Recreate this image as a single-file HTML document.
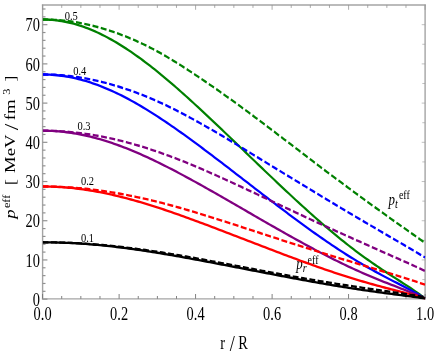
<!DOCTYPE html>
<html><head><meta charset="utf-8"><title>plot</title>
<style>
html,body{margin:0;padding:0;background:#fff;}
svg{display:block;font-family:"Liberation Serif",serif;fill:#000;}
</style></head><body>
<svg width="436" height="354" viewBox="0 0 436 354">
<rect width="436" height="354" fill="#fff"/>
<filter id="gs" x="-5%" y="-5%" width="110%" height="110%" color-interpolation-filters="sRGB"><feColorMatrix type="saturate" values="0"/></filter>
<clipPath id="c"><rect x="42.9" y="4.03" width="382.9" height="237.54"/></clipPath>
<g transform="scale(1,1.24)">
<g filter="url(#gs)">
<text x="388.6" y="165.32" font-size="12.9"><tspan font-style="italic">p</tspan><tspan font-style="italic" font-size="10.2" dy="2.4">t</tspan><tspan font-size="10.0" dy="-6.9" dx="1.0">eff</tspan></text>
<text x="296.2" y="217.10" font-size="12.9"><tspan font-style="italic">p</tspan><tspan font-style="italic" font-size="10.2" dy="2.4">r</tspan><tspan font-size="10.0" dy="-6.9" dx="1.0">eff</tspan></text>
</g>
<g>
<line x1="42.6" y1="3.55" x2="42.6" y2="241.45" stroke="#a4a4a4" stroke-width="1.4"/>
<line x1="425.1" y1="3.55" x2="425.1" y2="241.45" stroke="#a4a4a4" stroke-width="1.4"/>
<line x1="41.9" y1="4.03" x2="425.8" y2="4.03" stroke="#a4a4a4" stroke-width="1.05"/>
<line x1="41.9" y1="240.97" x2="425.8" y2="240.97" stroke="#a4a4a4" stroke-width="1.05"/>
</g>
<g stroke="#909090" stroke-width="0.9">
<line x1="42.60" y1="240.97" x2="42.60" y2="237.10" stroke="#747474"/>
<line x1="42.60" y1="4.03" x2="42.60" y2="7.90" stroke="#949494" stroke-width="0.7"/>
<line x1="61.73" y1="240.97" x2="61.73" y2="238.63" stroke="#747474"/>
<line x1="61.73" y1="4.03" x2="61.73" y2="6.37" stroke="#949494" stroke-width="0.7"/>
<line x1="80.85" y1="240.97" x2="80.85" y2="238.63" stroke="#747474"/>
<line x1="80.85" y1="4.03" x2="80.85" y2="6.37" stroke="#949494" stroke-width="0.7"/>
<line x1="99.97" y1="240.97" x2="99.97" y2="238.63" stroke="#747474"/>
<line x1="99.97" y1="4.03" x2="99.97" y2="6.37" stroke="#949494" stroke-width="0.7"/>
<line x1="119.10" y1="240.97" x2="119.10" y2="237.10" stroke="#747474"/>
<line x1="119.10" y1="4.03" x2="119.10" y2="7.90" stroke="#949494" stroke-width="0.7"/>
<line x1="138.22" y1="240.97" x2="138.22" y2="238.63" stroke="#747474"/>
<line x1="138.22" y1="4.03" x2="138.22" y2="6.37" stroke="#949494" stroke-width="0.7"/>
<line x1="157.35" y1="240.97" x2="157.35" y2="238.63" stroke="#747474"/>
<line x1="157.35" y1="4.03" x2="157.35" y2="6.37" stroke="#949494" stroke-width="0.7"/>
<line x1="176.47" y1="240.97" x2="176.47" y2="238.63" stroke="#747474"/>
<line x1="176.47" y1="4.03" x2="176.47" y2="6.37" stroke="#949494" stroke-width="0.7"/>
<line x1="195.60" y1="240.97" x2="195.60" y2="237.10" stroke="#747474"/>
<line x1="195.60" y1="4.03" x2="195.60" y2="7.90" stroke="#949494" stroke-width="0.7"/>
<line x1="214.72" y1="240.97" x2="214.72" y2="238.63" stroke="#747474"/>
<line x1="214.72" y1="4.03" x2="214.72" y2="6.37" stroke="#949494" stroke-width="0.7"/>
<line x1="233.85" y1="240.97" x2="233.85" y2="238.63" stroke="#747474"/>
<line x1="233.85" y1="4.03" x2="233.85" y2="6.37" stroke="#949494" stroke-width="0.7"/>
<line x1="252.98" y1="240.97" x2="252.98" y2="238.63" stroke="#747474"/>
<line x1="252.98" y1="4.03" x2="252.98" y2="6.37" stroke="#949494" stroke-width="0.7"/>
<line x1="272.10" y1="240.97" x2="272.10" y2="237.10" stroke="#747474"/>
<line x1="272.10" y1="4.03" x2="272.10" y2="7.90" stroke="#949494" stroke-width="0.7"/>
<line x1="291.23" y1="240.97" x2="291.23" y2="238.63" stroke="#747474"/>
<line x1="291.23" y1="4.03" x2="291.23" y2="6.37" stroke="#949494" stroke-width="0.7"/>
<line x1="310.35" y1="240.97" x2="310.35" y2="238.63" stroke="#747474"/>
<line x1="310.35" y1="4.03" x2="310.35" y2="6.37" stroke="#949494" stroke-width="0.7"/>
<line x1="329.48" y1="240.97" x2="329.48" y2="238.63" stroke="#747474"/>
<line x1="329.48" y1="4.03" x2="329.48" y2="6.37" stroke="#949494" stroke-width="0.7"/>
<line x1="348.60" y1="240.97" x2="348.60" y2="237.10" stroke="#747474"/>
<line x1="348.60" y1="4.03" x2="348.60" y2="7.90" stroke="#949494" stroke-width="0.7"/>
<line x1="367.73" y1="240.97" x2="367.73" y2="238.63" stroke="#747474"/>
<line x1="367.73" y1="4.03" x2="367.73" y2="6.37" stroke="#949494" stroke-width="0.7"/>
<line x1="386.85" y1="240.97" x2="386.85" y2="238.63" stroke="#747474"/>
<line x1="386.85" y1="4.03" x2="386.85" y2="6.37" stroke="#949494" stroke-width="0.7"/>
<line x1="405.98" y1="240.97" x2="405.98" y2="238.63" stroke="#747474"/>
<line x1="405.98" y1="4.03" x2="405.98" y2="6.37" stroke="#949494" stroke-width="0.7"/>
<line x1="425.10" y1="240.97" x2="425.10" y2="237.10" stroke="#747474"/>
<line x1="425.10" y1="4.03" x2="425.10" y2="7.90" stroke="#949494" stroke-width="0.7"/>
<line x1="42.6" y1="241.25" x2="47.4" y2="241.25" stroke-width="0.95"/>
<line x1="42.6" y1="234.93" x2="45.5" y2="234.93" stroke-width="0.95"/>
<line x1="42.6" y1="228.60" x2="45.5" y2="228.60" stroke-width="0.95"/>
<line x1="42.6" y1="222.28" x2="45.5" y2="222.28" stroke-width="0.95"/>
<line x1="42.6" y1="215.95" x2="45.5" y2="215.95" stroke-width="0.95"/>
<line x1="42.6" y1="209.63" x2="47.4" y2="209.63" stroke-width="0.95"/>
<line x1="42.6" y1="203.30" x2="45.5" y2="203.30" stroke-width="0.95"/>
<line x1="42.6" y1="196.98" x2="45.5" y2="196.98" stroke-width="0.95"/>
<line x1="42.6" y1="190.66" x2="45.5" y2="190.66" stroke-width="0.95"/>
<line x1="42.6" y1="184.33" x2="45.5" y2="184.33" stroke-width="0.95"/>
<line x1="42.6" y1="178.01" x2="47.4" y2="178.01" stroke-width="0.95"/>
<line x1="42.6" y1="171.68" x2="45.5" y2="171.68" stroke-width="0.95"/>
<line x1="42.6" y1="165.36" x2="45.5" y2="165.36" stroke-width="0.95"/>
<line x1="42.6" y1="159.04" x2="45.5" y2="159.04" stroke-width="0.95"/>
<line x1="42.6" y1="152.71" x2="45.5" y2="152.71" stroke-width="0.95"/>
<line x1="42.6" y1="146.39" x2="47.4" y2="146.39" stroke-width="0.95"/>
<line x1="42.6" y1="140.06" x2="45.5" y2="140.06" stroke-width="0.95"/>
<line x1="42.6" y1="133.74" x2="45.5" y2="133.74" stroke-width="0.95"/>
<line x1="42.6" y1="127.41" x2="45.5" y2="127.41" stroke-width="0.95"/>
<line x1="42.6" y1="121.09" x2="45.5" y2="121.09" stroke-width="0.95"/>
<line x1="42.6" y1="114.77" x2="47.4" y2="114.77" stroke-width="0.95"/>
<line x1="42.6" y1="108.44" x2="45.5" y2="108.44" stroke-width="0.95"/>
<line x1="42.6" y1="102.12" x2="45.5" y2="102.12" stroke-width="0.95"/>
<line x1="42.6" y1="95.79" x2="45.5" y2="95.79" stroke-width="0.95"/>
<line x1="42.6" y1="89.47" x2="45.5" y2="89.47" stroke-width="0.95"/>
<line x1="42.6" y1="83.15" x2="47.4" y2="83.15" stroke-width="0.95"/>
<line x1="42.6" y1="76.82" x2="45.5" y2="76.82" stroke-width="0.95"/>
<line x1="42.6" y1="70.50" x2="45.5" y2="70.50" stroke-width="0.95"/>
<line x1="42.6" y1="64.17" x2="45.5" y2="64.17" stroke-width="0.95"/>
<line x1="42.6" y1="57.85" x2="45.5" y2="57.85" stroke-width="0.95"/>
<line x1="42.6" y1="51.52" x2="47.4" y2="51.52" stroke-width="0.95"/>
<line x1="42.6" y1="45.20" x2="45.5" y2="45.20" stroke-width="0.95"/>
<line x1="42.6" y1="38.88" x2="45.5" y2="38.88" stroke-width="0.95"/>
<line x1="42.6" y1="32.55" x2="45.5" y2="32.55" stroke-width="0.95"/>
<line x1="42.6" y1="26.23" x2="45.5" y2="26.23" stroke-width="0.95"/>
<line x1="42.6" y1="19.90" x2="47.4" y2="19.90" stroke-width="0.95"/>
<line x1="42.6" y1="13.58" x2="45.5" y2="13.58" stroke-width="0.95"/>
<line x1="42.6" y1="7.25" x2="45.5" y2="7.25" stroke-width="0.95"/>
<line x1="425.1" y1="241.25" x2="421.70000000000005" y2="241.25" stroke="#9a9a9a" stroke-width="0.55"/>
<line x1="425.1" y1="225.44" x2="422.3" y2="225.44" stroke="#9a9a9a" stroke-width="0.55"/>
<line x1="425.1" y1="209.63" x2="421.70000000000005" y2="209.63" stroke="#9a9a9a" stroke-width="0.55"/>
<line x1="425.1" y1="193.82" x2="422.3" y2="193.82" stroke="#9a9a9a" stroke-width="0.55"/>
<line x1="425.1" y1="178.01" x2="421.70000000000005" y2="178.01" stroke="#9a9a9a" stroke-width="0.55"/>
<line x1="425.1" y1="162.20" x2="422.3" y2="162.20" stroke="#9a9a9a" stroke-width="0.55"/>
<line x1="425.1" y1="146.39" x2="421.70000000000005" y2="146.39" stroke="#9a9a9a" stroke-width="0.55"/>
<line x1="425.1" y1="130.58" x2="422.3" y2="130.58" stroke="#9a9a9a" stroke-width="0.55"/>
<line x1="425.1" y1="114.77" x2="421.70000000000005" y2="114.77" stroke="#9a9a9a" stroke-width="0.55"/>
<line x1="425.1" y1="98.96" x2="422.3" y2="98.96" stroke="#9a9a9a" stroke-width="0.55"/>
<line x1="425.1" y1="83.15" x2="421.70000000000005" y2="83.15" stroke="#9a9a9a" stroke-width="0.55"/>
<line x1="425.1" y1="67.33" x2="422.3" y2="67.33" stroke="#9a9a9a" stroke-width="0.55"/>
<line x1="425.1" y1="51.52" x2="421.70000000000005" y2="51.52" stroke="#9a9a9a" stroke-width="0.55"/>
<line x1="425.1" y1="35.71" x2="422.3" y2="35.71" stroke="#9a9a9a" stroke-width="0.55"/>
<line x1="425.1" y1="19.90" x2="421.70000000000005" y2="19.90" stroke="#9a9a9a" stroke-width="0.55"/>
</g>
<g clip-path="url(#c)" fill="none" stroke-width="1.9" stroke-linejoin="round">
<path d="M42.50,15.70 L44.89,15.72 L47.28,15.78 L49.67,15.89 L52.06,16.03 L54.45,16.21 L56.84,16.44 L59.23,16.70 L61.62,17.01 L64.02,17.35 L66.41,17.74 L68.80,18.16 L71.19,18.62 L73.58,19.13 L75.97,19.67 L78.36,20.25 L80.75,20.87 L83.14,21.52 L85.53,22.22 L87.92,22.95 L90.31,23.71 L92.70,24.51 L95.09,25.35 L97.48,26.22 L99.88,27.13 L102.27,28.07 L104.66,29.05 L107.05,30.06 L109.44,31.09 L111.83,32.17 L114.22,33.27 L116.61,34.40 L119.00,35.56 L121.39,36.76 L123.78,37.98 L126.17,39.22 L128.56,40.50 L130.95,41.80 L133.34,43.13 L135.73,44.48 L138.12,45.86 L140.52,47.26 L142.91,48.69 L145.30,50.14 L147.69,51.61 L150.08,53.10 L152.47,54.61 L154.86,56.14 L157.25,57.69 L159.64,59.26 L162.03,60.84 L164.42,62.45 L166.81,64.06 L169.20,65.70 L171.59,67.35 L173.98,69.02 L176.38,70.69 L178.77,72.39 L181.16,74.09 L183.55,75.81 L185.94,77.54 L188.33,79.28 L190.72,81.03 L193.11,82.78 L195.50,84.55 L197.89,86.33 L200.28,88.12 L202.67,89.91 L205.06,91.71 L207.45,93.51 L209.84,95.33 L212.23,97.15 L214.62,98.97 L217.02,100.80 L219.41,102.63 L221.80,104.47 L224.19,106.31 L226.58,108.15 L228.97,110.00 L231.36,111.84 L233.75,113.69 L236.14,115.54 L238.53,117.40 L240.92,119.25 L243.31,121.10 L245.70,122.96 L248.09,124.81 L250.48,126.67 L252.88,128.52 L255.27,130.37 L257.66,132.22 L260.05,134.07 L262.44,135.92 L264.83,137.76 L267.22,139.60 L269.61,141.44 L272.00,143.27 L274.39,145.10 L276.78,146.93 L279.17,148.75 L281.56,150.57 L283.95,152.38 L286.34,154.19 L288.73,155.99 L291.12,157.78 L293.52,159.57 L295.91,161.35 L298.30,163.13 L300.69,164.89 L303.08,166.65 L305.47,168.40 L307.86,170.14 L310.25,171.87 L312.64,173.59 L315.03,175.30 L317.42,177.00 L319.81,178.68 L322.20,180.36 L324.59,182.02 L326.98,183.67 L329.38,185.31 L331.77,186.93 L334.16,188.54 L336.55,190.14 L338.94,191.72 L341.33,193.28 L343.72,194.83 L346.11,196.36 L348.50,197.88 L350.89,199.38 L353.28,200.86 L355.67,202.33 L358.06,203.77 L360.45,205.20 L362.84,206.62 L365.23,208.01 L367.63,209.39 L370.02,210.76 L372.41,212.10 L374.80,213.43 L377.19,214.75 L379.58,216.05 L381.97,217.33 L384.36,218.61 L386.75,219.87 L389.14,221.13 L391.53,222.38 L393.92,223.62 L396.31,224.86 L398.70,226.09 L401.09,227.33 L403.48,228.58 L405.88,229.83 L408.27,231.10 L410.66,232.38 L413.05,233.68 L415.44,235.01 L417.83,236.38 L420.22,237.78 L422.61,239.23 L425.00,240.73" stroke="#008000"/>
<path d="M42.50,15.70 L44.89,15.71 L47.28,15.75 L49.67,15.81 L52.06,15.89 L54.45,15.99 L56.84,16.12 L59.23,16.27 L61.62,16.44 L64.02,16.64 L66.41,16.86 L68.80,17.11 L71.19,17.37 L73.58,17.66 L75.97,17.97 L78.36,18.31 L80.75,18.66 L83.14,19.04 L85.53,19.44 L87.92,19.87 L90.31,20.31 L92.70,20.78 L95.09,21.27 L97.48,21.79 L99.88,22.32 L102.27,22.87 L104.66,23.45 L107.05,24.05 L109.44,24.67 L111.83,25.31 L114.22,25.97 L116.61,26.65 L119.00,27.35 L121.39,28.08 L123.78,28.82 L126.17,29.58 L128.56,30.36 L130.95,31.17 L133.34,31.99 L135.73,32.83 L138.12,33.69 L140.52,34.57 L142.91,35.48 L145.30,36.41 L147.69,37.36 L150.08,38.34 L152.47,39.34 L154.86,40.37 L157.25,41.41 L159.64,42.48 L162.03,43.56 L164.42,44.67 L166.81,45.79 L169.20,46.93 L171.59,48.09 L173.98,49.26 L176.38,50.45 L178.77,51.65 L181.16,52.87 L183.55,54.10 L185.94,55.35 L188.33,56.60 L190.72,57.87 L193.11,59.14 L195.50,60.43 L197.89,61.72 L200.28,63.03 L202.67,64.34 L205.06,65.65 L207.45,66.97 L209.84,68.30 L212.23,69.63 L214.62,70.96 L217.02,72.30 L219.41,73.65 L221.80,75.01 L224.19,76.37 L226.58,77.74 L228.97,79.12 L231.36,80.51 L233.75,81.90 L236.14,83.30 L238.53,84.70 L240.92,86.11 L243.31,87.53 L245.70,88.95 L248.09,90.37 L250.48,91.81 L252.88,93.24 L255.27,94.68 L257.66,96.13 L260.05,97.57 L262.44,99.03 L264.83,100.48 L267.22,101.94 L269.61,103.40 L272.00,104.86 L274.39,106.33 L276.78,107.80 L279.17,109.27 L281.56,110.74 L283.95,112.21 L286.34,113.68 L288.73,115.16 L291.12,116.63 L293.52,118.11 L295.91,119.58 L298.30,121.06 L300.69,122.54 L303.08,124.01 L305.47,125.49 L307.86,126.96 L310.25,128.43 L312.64,129.90 L315.03,131.37 L317.42,132.83 L319.81,134.29 L322.20,135.75 L324.59,137.20 L326.98,138.64 L329.38,140.09 L331.77,141.53 L334.16,142.96 L336.55,144.40 L338.94,145.83 L341.33,147.26 L343.72,148.68 L346.11,150.10 L348.50,151.53 L350.89,152.94 L353.28,154.36 L355.67,155.77 L358.06,157.19 L360.45,158.60 L362.84,160.01 L365.23,161.42 L367.63,162.83 L370.02,164.24 L372.41,165.64 L374.80,167.04 L377.19,168.44 L379.58,169.83 L381.97,171.22 L384.36,172.60 L386.75,173.98 L389.14,175.36 L391.53,176.74 L393.92,178.11 L396.31,179.48 L398.70,180.85 L401.09,182.21 L403.48,183.57 L405.88,184.93 L408.27,186.29 L410.66,187.65 L413.05,189.01 L415.44,190.37 L417.83,191.72 L420.22,193.08 L422.61,194.44 L425.00,195.80" stroke="#008000" stroke-dasharray="5.9 2.5"/>
<path d="M42.50,60.07 L44.89,60.09 L47.28,60.14 L49.67,60.22 L52.06,60.34 L54.45,60.48 L56.84,60.66 L59.23,60.87 L61.62,61.12 L64.02,61.40 L66.41,61.71 L68.80,62.05 L71.19,62.42 L73.58,62.82 L75.97,63.26 L78.36,63.72 L80.75,64.22 L83.14,64.75 L85.53,65.30 L87.92,65.89 L90.31,66.50 L92.70,67.15 L95.09,67.82 L97.48,68.52 L99.88,69.25 L102.27,70.00 L104.66,70.79 L107.05,71.60 L109.44,72.43 L111.83,73.29 L114.22,74.18 L116.61,75.08 L119.00,76.02 L121.39,76.98 L123.78,77.96 L126.17,78.96 L128.56,79.98 L130.95,81.03 L133.34,82.09 L135.73,83.18 L138.12,84.29 L140.52,85.41 L142.91,86.56 L145.30,87.72 L147.69,88.90 L150.08,90.09 L152.47,91.31 L154.86,92.54 L157.25,93.78 L159.64,95.04 L162.03,96.31 L164.42,97.60 L166.81,98.90 L169.20,100.21 L171.59,101.54 L173.98,102.87 L176.38,104.22 L178.77,105.58 L181.16,106.95 L183.55,108.33 L185.94,109.72 L188.33,111.11 L190.72,112.52 L193.11,113.93 L195.50,115.35 L197.89,116.77 L200.28,118.21 L202.67,119.65 L205.06,121.09 L207.45,122.54 L209.84,124.00 L212.23,125.46 L214.62,126.92 L217.02,128.39 L219.41,129.86 L221.80,131.33 L224.19,132.81 L226.58,134.29 L228.97,135.77 L231.36,137.26 L233.75,138.74 L236.14,140.23 L238.53,141.72 L240.92,143.20 L243.31,144.69 L245.70,146.18 L248.09,147.67 L250.48,149.16 L252.88,150.64 L255.27,152.13 L257.66,153.62 L260.05,155.10 L262.44,156.58 L264.83,158.06 L267.22,159.54 L269.61,161.02 L272.00,162.49 L274.39,163.96 L276.78,165.42 L279.17,166.89 L281.56,168.35 L283.95,169.80 L286.34,171.25 L288.73,172.70 L291.12,174.14 L293.52,175.57 L295.91,177.00 L298.30,178.43 L300.69,179.84 L303.08,181.26 L305.47,182.66 L307.86,184.06 L310.25,185.45 L312.64,186.83 L315.03,188.20 L317.42,189.56 L319.81,190.92 L322.20,192.26 L324.59,193.60 L326.98,194.92 L329.38,196.24 L331.77,197.54 L334.16,198.83 L336.55,200.11 L338.94,201.38 L341.33,202.64 L343.72,203.88 L346.11,205.11 L348.50,206.33 L350.89,207.53 L353.28,208.72 L355.67,209.90 L358.06,211.06 L360.45,212.21 L362.84,213.34 L365.23,214.46 L367.63,215.57 L370.02,216.66 L372.41,217.75 L374.80,218.81 L377.19,219.87 L379.58,220.91 L381.97,221.95 L384.36,222.97 L386.75,223.99 L389.14,224.99 L391.53,225.99 L393.92,226.99 L396.31,227.99 L398.70,228.98 L401.09,229.97 L403.48,230.97 L405.88,231.98 L408.27,233.00 L410.66,234.03 L413.05,235.07 L415.44,236.14 L417.83,237.24 L420.22,238.36 L422.61,239.52 L425.00,240.73" stroke="#0000ff"/>
<path d="M42.50,60.07 L44.89,60.08 L47.28,60.11 L49.67,60.16 L52.06,60.23 L54.45,60.32 L56.84,60.43 L59.23,60.56 L61.62,60.71 L64.02,60.87 L66.41,61.06 L68.80,61.27 L71.19,61.49 L73.58,61.74 L75.97,62.00 L78.36,62.29 L80.75,62.59 L83.14,62.91 L85.53,63.25 L87.92,63.61 L90.31,63.99 L92.70,64.39 L95.09,64.81 L97.48,65.24 L99.88,65.69 L102.27,66.16 L104.66,66.65 L107.05,67.16 L109.44,67.68 L111.83,68.23 L114.22,68.78 L116.61,69.36 L119.00,69.95 L121.39,70.56 L123.78,71.19 L126.17,71.83 L128.56,72.49 L130.95,73.17 L133.34,73.86 L135.73,74.57 L138.12,75.29 L140.52,76.03 L142.91,76.78 L145.30,77.55 L147.69,78.33 L150.08,79.13 L152.47,79.95 L154.86,80.78 L157.25,81.63 L159.64,82.50 L162.03,83.39 L164.42,84.29 L166.81,85.21 L169.20,86.14 L171.59,87.09 L173.98,88.05 L176.38,89.03 L178.77,90.01 L181.16,91.02 L183.55,92.03 L185.94,93.05 L188.33,94.09 L190.72,95.13 L193.11,96.18 L195.50,97.25 L197.89,98.32 L200.28,99.40 L202.67,100.48 L205.06,101.57 L207.45,102.67 L209.84,103.77 L212.23,104.88 L214.62,106.00 L217.02,107.12 L219.41,108.25 L221.80,109.39 L224.19,110.53 L226.58,111.68 L228.97,112.84 L231.36,114.00 L233.75,115.17 L236.14,116.34 L238.53,117.51 L240.92,118.68 L243.31,119.86 L245.70,121.04 L248.09,122.22 L250.48,123.40 L252.88,124.58 L255.27,125.76 L257.66,126.94 L260.05,128.12 L262.44,129.30 L264.83,130.47 L267.22,131.65 L269.61,132.83 L272.00,134.00 L274.39,135.18 L276.78,136.35 L279.17,137.53 L281.56,138.70 L283.95,139.88 L286.34,141.05 L288.73,142.23 L291.12,143.40 L293.52,144.57 L295.91,145.75 L298.30,146.92 L300.69,148.09 L303.08,149.27 L305.47,150.44 L307.86,151.61 L310.25,152.79 L312.64,153.96 L315.03,155.13 L317.42,156.30 L319.81,157.47 L322.20,158.64 L324.59,159.80 L326.98,160.97 L329.38,162.13 L331.77,163.29 L334.16,164.45 L336.55,165.60 L338.94,166.75 L341.33,167.90 L343.72,169.05 L346.11,170.20 L348.50,171.34 L350.89,172.48 L353.28,173.63 L355.67,174.76 L358.06,175.90 L360.45,177.04 L362.84,178.17 L365.23,179.30 L367.63,180.43 L370.02,181.56 L372.41,182.69 L374.80,183.82 L377.19,184.95 L379.58,186.07 L381.97,187.20 L384.36,188.33 L386.75,189.46 L389.14,190.58 L391.53,191.70 L393.92,192.82 L396.31,193.94 L398.70,195.07 L401.09,196.19 L403.48,197.32 L405.88,198.44 L408.27,199.58 L410.66,200.71 L413.05,201.85 L415.44,203.00 L417.83,204.15 L420.22,205.31 L422.61,206.48 L425.00,207.66" stroke="#0000ff" stroke-dasharray="5.9 2.5"/>
<path d="M42.50,105.39 L44.89,105.41 L47.28,105.44 L49.67,105.50 L52.06,105.59 L54.45,105.70 L56.84,105.84 L59.23,106.00 L61.62,106.18 L64.02,106.39 L66.41,106.62 L68.80,106.87 L71.19,107.15 L73.58,107.45 L75.97,107.78 L78.36,108.13 L80.75,108.50 L83.14,108.90 L85.53,109.31 L87.92,109.75 L90.31,110.21 L92.70,110.69 L95.09,111.20 L97.48,111.72 L99.88,112.27 L102.27,112.83 L104.66,113.42 L107.05,114.03 L109.44,114.65 L111.83,115.30 L114.22,115.96 L116.61,116.64 L119.00,117.34 L121.39,118.06 L123.78,118.79 L126.17,119.54 L128.56,120.31 L130.95,121.09 L133.34,121.89 L135.73,122.70 L138.12,123.53 L140.52,124.38 L142.91,125.23 L145.30,126.10 L147.69,126.99 L150.08,127.88 L152.47,128.79 L154.86,129.71 L157.25,130.65 L159.64,131.59 L162.03,132.54 L164.42,133.51 L166.81,134.48 L169.20,135.46 L171.59,136.46 L173.98,137.46 L176.38,138.47 L178.77,139.49 L181.16,140.51 L183.55,141.54 L185.94,142.58 L188.33,143.63 L190.72,144.68 L193.11,145.74 L195.50,146.80 L197.89,147.87 L200.28,148.94 L202.67,150.02 L205.06,151.11 L207.45,152.19 L209.84,153.28 L212.23,154.38 L214.62,155.47 L217.02,156.57 L219.41,157.67 L221.80,158.78 L224.19,159.88 L226.58,160.99 L228.97,162.10 L231.36,163.21 L233.75,164.33 L236.14,165.44 L238.53,166.55 L240.92,167.67 L243.31,168.78 L245.70,169.90 L248.09,171.02 L250.48,172.13 L252.88,173.24 L255.27,174.36 L257.66,175.47 L260.05,176.58 L262.44,177.69 L264.83,178.80 L267.22,179.91 L269.61,181.01 L272.00,182.12 L274.39,183.22 L276.78,184.32 L279.17,185.41 L281.56,186.50 L283.95,187.59 L286.34,188.68 L288.73,189.76 L291.12,190.84 L293.52,191.92 L295.91,192.99 L298.30,194.06 L300.69,195.12 L303.08,196.18 L305.47,197.23 L307.86,198.27 L310.25,199.31 L312.64,200.35 L315.03,201.38 L317.42,202.40 L319.81,203.41 L322.20,204.42 L324.59,205.42 L326.98,206.41 L329.38,207.40 L331.77,208.37 L334.16,209.34 L336.55,210.30 L338.94,211.25 L341.33,212.19 L343.72,213.12 L346.11,214.05 L348.50,214.96 L350.89,215.86 L353.28,216.75 L355.67,217.63 L358.06,218.50 L360.45,219.36 L362.84,220.21 L365.23,221.05 L367.63,221.88 L370.02,222.70 L372.41,223.51 L374.80,224.31 L377.19,225.10 L379.58,225.88 L381.97,226.66 L384.36,227.43 L386.75,228.19 L389.14,228.94 L391.53,229.69 L393.92,230.44 L396.31,231.18 L398.70,231.93 L401.09,232.67 L403.48,233.42 L405.88,234.17 L408.27,234.93 L410.66,235.71 L413.05,236.49 L415.44,237.29 L417.83,238.11 L420.22,238.95 L422.61,239.82 L425.00,240.73" stroke="#800080"/>
<path d="M42.50,105.39 L44.89,105.40 L47.28,105.43 L49.67,105.46 L52.06,105.52 L54.45,105.59 L56.84,105.68 L59.23,105.78 L61.62,105.89 L64.02,106.03 L66.41,106.17 L68.80,106.34 L71.19,106.51 L73.58,106.71 L75.97,106.92 L78.36,107.14 L80.75,107.38 L83.14,107.63 L85.53,107.90 L87.92,108.19 L90.31,108.48 L92.70,108.80 L95.09,109.12 L97.48,109.47 L99.88,109.82 L102.27,110.19 L104.66,110.58 L107.05,110.97 L109.44,111.39 L111.83,111.81 L114.22,112.25 L116.61,112.70 L119.00,113.17 L121.39,113.65 L123.78,114.14 L126.17,114.64 L128.56,115.16 L130.95,115.69 L133.34,116.23 L135.73,116.79 L138.12,117.35 L140.52,117.93 L142.91,118.52 L145.30,119.12 L147.69,119.73 L150.08,120.35 L152.47,120.99 L154.86,121.63 L157.25,122.28 L159.64,122.95 L162.03,123.63 L164.42,124.31 L166.81,125.01 L169.20,125.72 L171.59,126.44 L173.98,127.18 L176.38,127.92 L178.77,128.67 L181.16,129.43 L183.55,130.19 L185.94,130.97 L188.33,131.76 L190.72,132.55 L193.11,133.35 L195.50,134.16 L197.89,134.98 L200.28,135.80 L202.67,136.63 L205.06,137.47 L207.45,138.31 L209.84,139.16 L212.23,140.01 L214.62,140.87 L217.02,141.73 L219.41,142.59 L221.80,143.46 L224.19,144.34 L226.58,145.22 L228.97,146.10 L231.36,146.98 L233.75,147.87 L236.14,148.76 L238.53,149.65 L240.92,150.54 L243.31,151.44 L245.70,152.34 L248.09,153.25 L250.48,154.15 L252.88,155.06 L255.27,155.96 L257.66,156.87 L260.05,157.78 L262.44,158.69 L264.83,159.61 L267.22,160.52 L269.61,161.43 L272.00,162.34 L274.39,163.26 L276.78,164.17 L279.17,165.08 L281.56,165.99 L283.95,166.90 L286.34,167.81 L288.73,168.72 L291.12,169.62 L293.52,170.53 L295.91,171.43 L298.30,172.33 L300.69,173.23 L303.08,174.13 L305.47,175.03 L307.86,175.92 L310.25,176.81 L312.64,177.70 L315.03,178.59 L317.42,179.48 L319.81,180.36 L322.20,181.24 L324.59,182.13 L326.98,183.01 L329.38,183.88 L331.77,184.76 L334.16,185.63 L336.55,186.51 L338.94,187.38 L341.33,188.25 L343.72,189.12 L346.11,189.98 L348.50,190.85 L350.89,191.71 L353.28,192.57 L355.67,193.43 L358.06,194.29 L360.45,195.14 L362.84,196.00 L365.23,196.86 L367.63,197.71 L370.02,198.57 L372.41,199.42 L374.80,200.28 L377.19,201.13 L379.58,201.98 L381.97,202.84 L384.36,203.70 L386.75,204.56 L389.14,205.41 L391.53,206.27 L393.92,207.13 L396.31,207.98 L398.70,208.84 L401.09,209.69 L403.48,210.55 L405.88,211.41 L408.27,212.28 L410.66,213.15 L413.05,214.03 L415.44,214.91 L417.83,215.81 L420.22,216.71 L422.61,217.62 L425.00,218.54" stroke="#800080" stroke-dasharray="5.9 2.5"/>
<path d="M42.50,150.40 L44.89,150.41 L47.28,150.43 L49.67,150.47 L52.06,150.53 L54.45,150.60 L56.84,150.69 L59.23,150.80 L61.62,150.92 L64.02,151.06 L66.41,151.22 L68.80,151.39 L71.19,151.57 L73.58,151.77 L75.97,151.99 L78.36,152.22 L80.75,152.47 L83.14,152.74 L85.53,153.01 L87.92,153.31 L90.31,153.61 L92.70,153.94 L95.09,154.27 L97.48,154.62 L99.88,154.99 L102.27,155.37 L104.66,155.76 L107.05,156.16 L109.44,156.58 L111.83,157.01 L114.22,157.45 L116.61,157.91 L119.00,158.37 L121.39,158.85 L123.78,159.34 L126.17,159.84 L128.56,160.35 L130.95,160.88 L133.34,161.41 L135.73,161.95 L138.12,162.51 L140.52,163.07 L142.91,163.64 L145.30,164.22 L147.69,164.81 L150.08,165.41 L152.47,166.02 L154.86,166.63 L157.25,167.25 L159.64,167.88 L162.03,168.52 L164.42,169.16 L166.81,169.81 L169.20,170.47 L171.59,171.13 L173.98,171.80 L176.38,172.47 L178.77,173.15 L181.16,173.84 L183.55,174.53 L185.94,175.22 L188.33,175.92 L190.72,176.62 L193.11,177.33 L195.50,178.04 L197.89,178.75 L200.28,179.47 L202.67,180.19 L205.06,180.91 L207.45,181.63 L209.84,182.36 L212.23,183.09 L214.62,183.82 L217.02,184.56 L219.41,185.29 L221.80,186.03 L224.19,186.77 L226.58,187.51 L228.97,188.25 L231.36,188.99 L233.75,189.73 L236.14,190.48 L238.53,191.22 L240.92,191.96 L243.31,192.71 L245.70,193.45 L248.09,194.20 L250.48,194.94 L252.88,195.69 L255.27,196.43 L257.66,197.17 L260.05,197.91 L262.44,198.65 L264.83,199.39 L267.22,200.13 L269.61,200.87 L272.00,201.61 L274.39,202.34 L276.78,203.08 L279.17,203.81 L281.56,204.54 L283.95,205.26 L286.34,205.99 L288.73,206.71 L291.12,207.43 L293.52,208.15 L295.91,208.86 L298.30,209.58 L300.69,210.29 L303.08,210.99 L305.47,211.69 L307.86,212.39 L310.25,213.09 L312.64,213.78 L315.03,214.46 L317.42,215.14 L319.81,215.82 L322.20,216.49 L324.59,217.16 L326.98,217.82 L329.38,218.48 L331.77,219.13 L334.16,219.78 L336.55,220.42 L338.94,221.05 L341.33,221.68 L343.72,222.30 L346.11,222.92 L348.50,223.53 L350.89,224.13 L353.28,224.72 L355.67,225.31 L358.06,225.89 L360.45,226.47 L362.84,227.03 L365.23,227.59 L367.63,228.15 L370.02,228.70 L372.41,229.24 L374.80,229.77 L377.19,230.30 L379.58,230.82 L381.97,231.34 L384.36,231.85 L386.75,232.36 L389.14,232.86 L391.53,233.36 L393.92,233.86 L396.31,234.36 L398.70,234.85 L401.09,235.35 L403.48,235.85 L405.88,236.35 L408.27,236.86 L410.66,237.38 L413.05,237.90 L415.44,238.43 L417.83,238.98 L420.22,239.54 L422.61,240.12 L425.00,240.73" stroke="#ff0000"/>
<path d="M42.50,150.40 L44.89,150.40 L47.28,150.42 L49.67,150.45 L52.06,150.49 L54.45,150.54 L56.84,150.60 L59.23,150.68 L61.62,150.76 L64.02,150.86 L66.41,150.97 L68.80,151.09 L71.19,151.22 L73.58,151.36 L75.97,151.51 L78.36,151.68 L80.75,151.85 L83.14,152.04 L85.53,152.23 L87.92,152.44 L90.31,152.66 L92.70,152.89 L95.09,153.13 L97.48,153.38 L99.88,153.64 L102.27,153.91 L104.66,154.19 L107.05,154.48 L109.44,154.78 L111.83,155.09 L114.22,155.41 L116.61,155.74 L119.00,156.08 L121.39,156.43 L123.78,156.79 L126.17,157.16 L128.56,157.53 L130.95,157.92 L133.34,158.31 L135.73,158.71 L138.12,159.13 L140.52,159.55 L142.91,159.97 L145.30,160.41 L147.69,160.85 L150.08,161.31 L152.47,161.77 L154.86,162.23 L157.25,162.71 L159.64,163.19 L162.03,163.68 L164.42,164.18 L166.81,164.68 L169.20,165.20 L171.59,165.72 L173.98,166.25 L176.38,166.78 L178.77,167.32 L181.16,167.87 L183.55,168.42 L185.94,168.98 L188.33,169.55 L190.72,170.12 L193.11,170.69 L195.50,171.27 L197.89,171.86 L200.28,172.44 L202.67,173.04 L205.06,173.63 L207.45,174.23 L209.84,174.84 L212.23,175.44 L214.62,176.05 L217.02,176.66 L219.41,177.28 L221.80,177.89 L224.19,178.51 L226.58,179.13 L228.97,179.75 L231.36,180.37 L233.75,180.99 L236.14,181.62 L238.53,182.24 L240.92,182.87 L243.31,183.50 L245.70,184.13 L248.09,184.75 L250.48,185.38 L252.88,186.01 L255.27,186.64 L257.66,187.28 L260.05,187.91 L262.44,188.54 L264.83,189.17 L267.22,189.80 L269.61,190.43 L272.00,191.06 L274.39,191.69 L276.78,192.31 L279.17,192.94 L281.56,193.57 L283.95,194.19 L286.34,194.81 L288.73,195.44 L291.12,196.06 L293.52,196.68 L295.91,197.30 L298.30,197.91 L300.69,198.53 L303.08,199.14 L305.47,199.75 L307.86,200.36 L310.25,200.97 L312.64,201.57 L315.03,202.18 L317.42,202.78 L319.81,203.38 L322.20,203.98 L324.59,204.58 L326.98,205.17 L329.38,205.77 L331.77,206.36 L334.16,206.95 L336.55,207.54 L338.94,208.12 L341.33,208.71 L343.72,209.29 L346.11,209.88 L348.50,210.46 L350.89,211.04 L353.28,211.62 L355.67,212.20 L358.06,212.78 L360.45,213.36 L362.84,213.94 L365.23,214.52 L367.63,215.10 L370.02,215.68 L372.41,216.26 L374.80,216.84 L377.19,217.43 L379.58,218.01 L381.97,218.59 L384.36,219.17 L386.75,219.75 L389.14,220.33 L391.53,220.92 L393.92,221.50 L396.31,222.09 L398.70,222.68 L401.09,223.27 L403.48,223.87 L405.88,224.48 L408.27,225.09 L410.66,225.70 L413.05,226.33 L415.44,226.96 L417.83,227.59 L420.22,228.24 L422.61,228.90 L425.00,229.57" stroke="#ff0000" stroke-dasharray="5.9 2.5"/>
<path d="M42.50,195.40 L44.89,195.41 L47.28,195.42 L49.67,195.44 L52.06,195.47 L54.45,195.51 L56.84,195.55 L59.23,195.61 L61.62,195.67 L64.02,195.74 L66.41,195.81 L68.80,195.90 L71.19,195.99 L73.58,196.09 L75.97,196.20 L78.36,196.32 L80.75,196.44 L83.14,196.58 L85.53,196.72 L87.92,196.86 L90.31,197.02 L92.70,197.18 L95.09,197.35 L97.48,197.52 L99.88,197.71 L102.27,197.90 L104.66,198.09 L107.05,198.29 L109.44,198.50 L111.83,198.72 L114.22,198.94 L116.61,199.17 L119.00,199.40 L121.39,199.64 L123.78,199.89 L126.17,200.14 L128.56,200.40 L130.95,200.66 L133.34,200.93 L135.73,201.20 L138.12,201.48 L140.52,201.76 L142.91,202.05 L145.30,202.34 L147.69,202.64 L150.08,202.94 L152.47,203.24 L154.86,203.55 L157.25,203.86 L159.64,204.18 L162.03,204.50 L164.42,204.82 L166.81,205.14 L169.20,205.47 L171.59,205.81 L173.98,206.14 L176.38,206.48 L178.77,206.82 L181.16,207.16 L183.55,207.51 L185.94,207.86 L188.33,208.21 L190.72,208.56 L193.11,208.92 L195.50,209.27 L197.89,209.63 L200.28,209.99 L202.67,210.35 L205.06,210.71 L207.45,211.08 L209.84,211.44 L212.23,211.81 L214.62,212.17 L217.02,212.54 L219.41,212.91 L221.80,213.28 L224.19,213.65 L226.58,214.02 L228.97,214.40 L231.36,214.77 L233.75,215.14 L236.14,215.51 L238.53,215.89 L240.92,216.26 L243.31,216.63 L245.70,217.01 L248.09,217.38 L250.48,217.75 L252.88,218.13 L255.27,218.50 L257.66,218.87 L260.05,219.24 L262.44,219.62 L264.83,219.99 L267.22,220.36 L269.61,220.73 L272.00,221.10 L274.39,221.47 L276.78,221.83 L279.17,222.20 L281.56,222.57 L283.95,222.93 L286.34,223.30 L288.73,223.66 L291.12,224.02 L293.52,224.38 L295.91,224.74 L298.30,225.10 L300.69,225.45 L303.08,225.81 L305.47,226.16 L307.86,226.51 L310.25,226.86 L312.64,227.20 L315.03,227.55 L317.42,227.89 L319.81,228.23 L322.20,228.57 L324.59,228.90 L326.98,229.23 L329.38,229.56 L331.77,229.89 L334.16,230.22 L336.55,230.54 L338.94,230.86 L341.33,231.17 L343.72,231.48 L346.11,231.79 L348.50,232.10 L350.89,232.40 L353.28,232.70 L355.67,232.99 L358.06,233.28 L360.45,233.57 L362.84,233.86 L365.23,234.14 L367.63,234.42 L370.02,234.69 L372.41,234.96 L374.80,235.23 L377.19,235.49 L379.58,235.76 L381.97,236.01 L384.36,236.27 L386.75,236.53 L389.14,236.78 L391.53,237.03 L393.92,237.28 L396.31,237.53 L398.70,237.78 L401.09,238.03 L403.48,238.28 L405.88,238.53 L408.27,238.79 L410.66,239.04 L413.05,239.31 L415.44,239.58 L417.83,239.85 L420.22,240.13 L422.61,240.42 L425.00,240.73" stroke="#000000"/>
<path d="M42.50,195.40 L44.89,195.41 L47.28,195.42 L49.67,195.44 L52.06,195.46 L54.45,195.49 L56.84,195.53 L59.23,195.58 L61.62,195.63 L64.02,195.69 L66.41,195.76 L68.80,195.84 L71.19,195.92 L73.58,196.01 L75.97,196.10 L78.36,196.20 L80.75,196.31 L83.14,196.43 L85.53,196.55 L87.92,196.68 L90.31,196.82 L92.70,196.96 L95.09,197.11 L97.48,197.27 L99.88,197.43 L102.27,197.60 L104.66,197.77 L107.05,197.95 L109.44,198.14 L111.83,198.34 L114.22,198.54 L116.61,198.74 L119.00,198.95 L121.39,199.17 L123.78,199.39 L126.17,199.62 L128.56,199.86 L130.95,200.10 L133.34,200.34 L135.73,200.59 L138.12,200.85 L140.52,201.11 L142.91,201.37 L145.30,201.64 L147.69,201.92 L150.08,202.20 L152.47,202.48 L154.86,202.77 L157.25,203.06 L159.64,203.36 L162.03,203.66 L164.42,203.96 L166.81,204.27 L169.20,204.59 L171.59,204.90 L173.98,205.22 L176.38,205.55 L178.77,205.87 L181.16,206.20 L183.55,206.54 L185.94,206.87 L188.33,207.21 L190.72,207.55 L193.11,207.89 L195.50,208.24 L197.89,208.59 L200.28,208.94 L202.67,209.29 L205.06,209.65 L207.45,210.00 L209.84,210.36 L212.23,210.72 L214.62,211.08 L217.02,211.44 L219.41,211.81 L221.80,212.17 L224.19,212.54 L226.58,212.90 L228.97,213.27 L231.36,213.64 L233.75,214.01 L236.14,214.37 L238.53,214.74 L240.92,215.11 L243.31,215.48 L245.70,215.85 L248.09,216.22 L250.48,216.58 L252.88,216.95 L255.27,217.32 L257.66,217.68 L260.05,218.05 L262.44,218.41 L264.83,218.78 L267.22,219.14 L269.61,219.50 L272.00,219.86 L274.39,220.22 L276.78,220.58 L279.17,220.93 L281.56,221.29 L283.95,221.64 L286.34,221.99 L288.73,222.34 L291.12,222.68 L293.52,223.03 L295.91,223.37 L298.30,223.71 L300.69,224.05 L303.08,224.39 L305.47,224.72 L307.86,225.06 L310.25,225.39 L312.64,225.71 L315.03,226.04 L317.42,226.36 L319.81,226.68 L322.20,227.00 L324.59,227.32 L326.98,227.63 L329.38,227.95 L331.77,228.25 L334.16,228.56 L336.55,228.87 L338.94,229.17 L341.33,229.47 L343.72,229.77 L346.11,230.07 L348.50,230.36 L350.89,230.65 L353.28,230.95 L355.67,231.24 L358.06,231.52 L360.45,231.81 L362.84,232.10 L365.23,232.38 L367.63,232.66 L370.02,232.94 L372.41,233.22 L374.80,233.50 L377.19,233.78 L379.58,234.06 L381.97,234.34 L384.36,234.62 L386.75,234.90 L389.14,235.18 L391.53,235.46 L393.92,235.74 L396.31,236.02 L398.70,236.31 L401.09,236.59 L403.48,236.88 L405.88,237.17 L408.27,237.46 L410.66,237.75 L413.05,238.05 L415.44,238.35 L417.83,238.66 L420.22,238.96 L422.61,239.28 L425.00,239.60" stroke="#000000" stroke-dasharray="5.9 2.5"/>
</g>
<g filter="url(#gs)">
<text transform="translate(42.60,258.06) scale(1,1.03)" text-anchor="middle" font-size="14.4" >0.0</text>
<text transform="translate(119.10,258.06) scale(1,1.03)" text-anchor="middle" font-size="14.4" >0.2</text>
<text transform="translate(195.60,258.06) scale(1,1.03)" text-anchor="middle" font-size="14.4" >0.4</text>
<text transform="translate(272.10,258.06) scale(1,1.03)" text-anchor="middle" font-size="14.4" >0.6</text>
<text transform="translate(348.60,258.06) scale(1,1.03)" text-anchor="middle" font-size="14.4" >0.8</text>
<text transform="translate(425.10,258.06) scale(1,1.03)" text-anchor="middle" font-size="14.4" >1.0</text>
<text transform="translate(39.90,246.61) scale(1,1.03)" text-anchor="end" font-size="14.4" >0</text>
<text transform="translate(39.90,214.99) scale(1,1.03)" text-anchor="end" font-size="14.4" >10</text>
<text transform="translate(39.90,183.37) scale(1,1.03)" text-anchor="end" font-size="14.4" >20</text>
<text transform="translate(39.90,151.75) scale(1,1.03)" text-anchor="end" font-size="14.4" >30</text>
<text transform="translate(39.90,120.13) scale(1,1.03)" text-anchor="end" font-size="14.4" >40</text>
<text transform="translate(39.90,88.51) scale(1,1.03)" text-anchor="end" font-size="14.4" >50</text>
<text transform="translate(39.90,56.89) scale(1,1.03)" text-anchor="end" font-size="14.4" >60</text>
<text transform="translate(39.90,25.27) scale(1,1.03)" text-anchor="end" font-size="14.4" >70</text>
<text transform="translate(71.20,16.13) scale(1,0.96)" text-anchor="middle" font-size="10.5" >0.5</text>
<text transform="translate(79.70,60.73) scale(1,0.96)" text-anchor="middle" font-size="10.5" >0.4</text>
<text transform="translate(84.00,105.24) scale(1,0.96)" text-anchor="middle" font-size="10.5" >0.3</text>
<text transform="translate(87.50,149.19) scale(1,0.96)" text-anchor="middle" font-size="10.5" >0.2</text>
<text transform="translate(87.50,195.56) scale(1,0.96)" text-anchor="middle" font-size="10.5" >0.1</text>
<text transform="translate(234.00,281.13) scale(1,1.03)" text-anchor="middle" font-size="14.4" xml:space="preserve">r <tspan font-size="18.3" dy="1.85" dx="1.0">/</tspan><tspan dy="-1.85" dx="-0.2"> R</tspan></text>
<text transform="translate(15.3,118.71) scale(1,0.8065) rotate(-90) scale(1.3020,1)" text-anchor="middle" font-size="14.4"><tspan font-style="italic">p</tspan><tspan font-size="9.5" dy="-5.5" dx="1">eff</tspan><tspan dy="5.5" xml:space="preserve">  [</tspan><tspan dx="1" xml:space="preserve"> MeV </tspan><tspan font-size="18.3" dy="2.2">/</tspan><tspan dy="-2.2" dx="-1" xml:space="preserve"> fm </tspan><tspan font-size="9.5" dy="-5.5">3</tspan><tspan dy="5.5" dx="1.5" xml:space="preserve"> ]</tspan></text>
</g>
</g>
</svg>
</body></html>
